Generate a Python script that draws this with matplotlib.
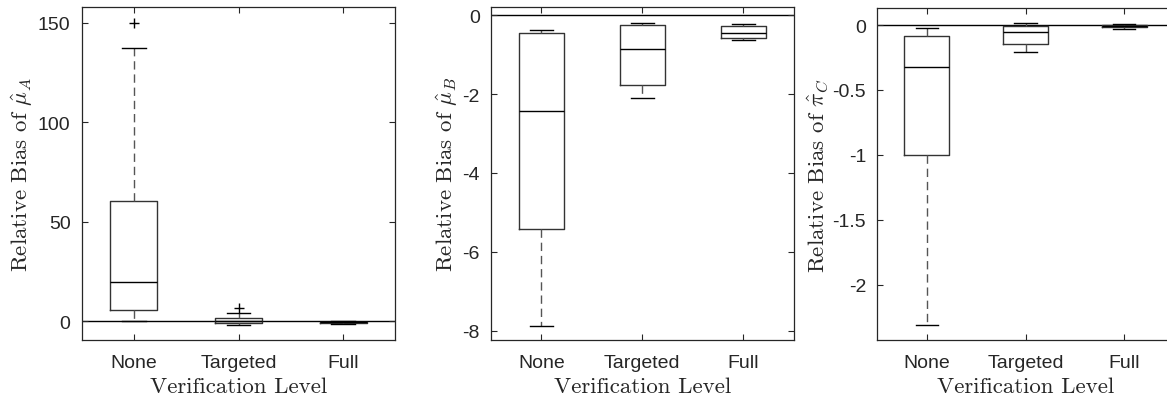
import matplotlib
matplotlib.use("Agg")
import matplotlib.pyplot as plt
from matplotlib.ticker import FixedLocator, FuncFormatter

plt.rcParams['mathtext.fontset'] = 'cm'
plt.rcParams['axes.unicode_minus'] = False

categories = ['None', 'Targeted', 'Full']

# Panel A: relative bias of mu_A
muA_whislo = [0.3, -1.85, -1.4]
muA_q1 = [5.5, -0.85, -1.0]
muA_med = [19.6, 0.3, -0.6]
muA_q3 = [60.3, 1.65, -0.2]
muA_whishi = [137.3, 4.2, 0.0]
muA_fliers = [[150.0], [6.5], []]
muA_ticks = [0, 50, 100, 150]

# Panel B: relative bias of mu_B
muB_whislo = [-7.88, -2.11, -0.64]
muB_q1 = [-5.43, -1.78, -0.57]
muB_med = [-2.42, -0.87, -0.44]
muB_q3 = [-0.44, -0.26, -0.27]
muB_whishi = [-0.37, -0.19, -0.22]
muB_fliers = [[], [], []]
muB_ticks = [-8, -6, -4, -2, 0]

# Panel C: relative bias of pi_C
piC_whislo = [-2.31, -0.21, -0.033]
piC_q1 = [-1.0, -0.144, -0.015]
piC_med = [-0.326, -0.056, -0.006]
piC_q3 = [-0.082, -0.005, 0.004]
piC_whishi = [-0.025, 0.018, 0.008]
piC_fliers = [[], [], []]
piC_ticks = [-2, -1.5, -1, -0.5, 0]

ylabels = [r'Relative Bias of $\hat{\mu}_A$',
           r'Relative Bias of $\hat{\mu}_B$',
           r'Relative Bias of $\hat{\pi}_C$']
xlabel = 'Verification Level'

W, H = 1167, 402
fig = plt.figure(figsize=(W / 100, H / 100), dpi=100)

positions_px = [
    (81.7, 395.3, 8.3, 341.0),
    (491.0, 793.7, 8.3, 341.0),
    (877.3, 1173.7, 9.3, 341.0),
]
ylims = [(-9.4, 157.7), (-8.24, 0.2), (-2.426, 0.129)]

panels = [
    (muA_whislo, muA_q1, muA_med, muA_q3, muA_whishi, muA_fliers, muA_ticks),
    (muB_whislo, muB_q1, muB_med, muB_q3, muB_whishi, muB_fliers, muB_ticks),
    (piC_whislo, piC_q1, piC_med, piC_q3, piC_whishi, piC_fliers, piC_ticks),
]

axcol = '#262626'
tickfont = 'Liberation Sans'

for i, (pos, ylim, panel) in enumerate(zip(positions_px, ylims, panels)):
    l, r, t, b = pos
    ax = fig.add_axes([l / W, (H - b) / H, (r - l) / W, (b - t) / H])
    lo, q1, med, q3, hi, fl, ticks = panel
    stats = []
    for k in range(len(categories)):
        stats.append(dict(whislo=lo[k], q1=q1[k], med=med[k], q3=q3[k],
                          whishi=hi[k], fliers=fl[k], label=categories[k]))
    ax.axhline(0, color='k', lw=1.0, zorder=1)
    ax.bxp(stats, positions=[1, 2, 3], widths=0.45, showfliers=True,
           boxprops=dict(color='#333333', lw=1.0),
           medianprops=dict(color='k', lw=1.0),
           whiskerprops=dict(color='#555555', lw=1.0, linestyle=(0, (6, 3.5))),
           capprops=dict(color='k', lw=1.0),
           flierprops=dict(marker='+', markeredgecolor='k', markersize=7,
                           markeredgewidth=1.0, linestyle='none'),
           manage_ticks=False, zorder=3)
    ax.set_xlim(0.5, 3.5)
    ax.set_ylim(*ylim)
    ax.xaxis.set_major_locator(FixedLocator([1, 2, 3]))
    ax.set_xticklabels(categories)
    ax.yaxis.set_major_locator(FixedLocator(ticks))
    ax.yaxis.set_major_formatter(FuncFormatter(lambda v, p: '%g' % v))
    ax.tick_params(direction='in', length=4, width=0.8, colors=axcol,
                   top=True, right=True, labelsize=14)
    ax.tick_params(axis='x', pad=10)
    ax.tick_params(axis='y', pad=8)
    for lab in ax.get_xticklabels() + ax.get_yticklabels():
        lab.set_fontfamily(tickfont)
    for s in ax.spines.values():
        s.set_color(axcol)
        s.set_linewidth(0.9)
    ax.set_ylabel(ylabels[i], fontsize=16.5, family='cmr10', color=axcol, labelpad=2)
    ax.set_xlabel(xlabel, fontsize=16.5, family='cmr10', color=axcol, labelpad=4)

fig.savefig('out.png', dpi=100)
